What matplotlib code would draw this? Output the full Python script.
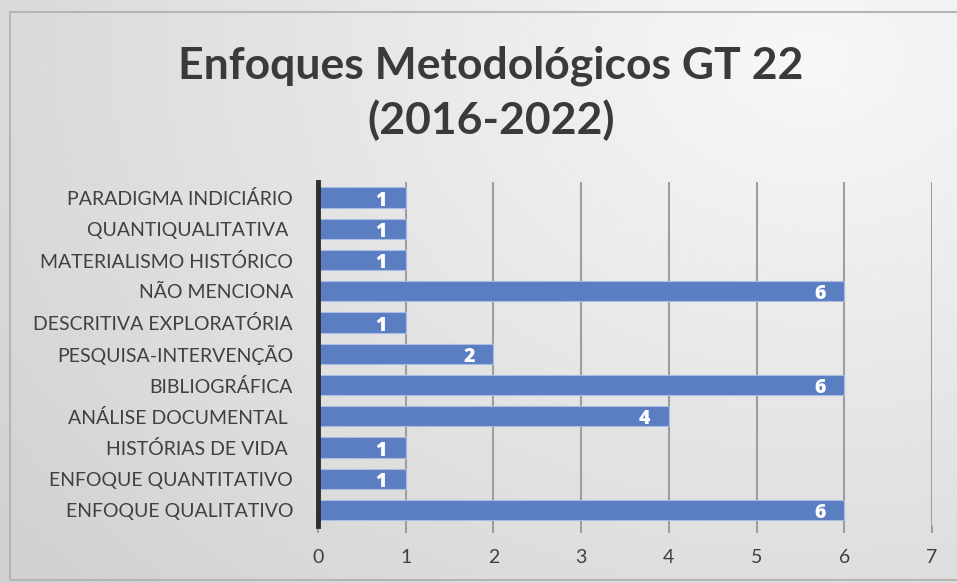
import numpy as np
import matplotlib.pyplot as plt
from matplotlib.patches import Rectangle

# categories from bottom to top (as plotted)
categorias = [
    "ENFOQUE QUALITATIVO",
    "ENFOQUE QUANTITATIVO",
    "HISTÓRIAS DE VIDA ",
    "ANÁLISE DOCUMENTAL ",
    "BIBLIOGRÁFICA",
    "PESQUISA-INTERVENÇÃO",
    "DESCRITIVA EXPLORATÓRIA",
    "NÃO MENCIONA",
    "MATERIALISMO HISTÓRICO",
    "QUANTIQUALITATIVA ",
    "PARADIGMA INDICIÁRIO",
]
valores = [6, 1, 1, 4, 6, 2, 1, 6, 1, 1, 1]
x_ticks = [0, 1, 2, 3, 4, 5, 6, 7]

plt.rcParams['font.family'] = ['Lato', 'DejaVu Sans']

fig = plt.figure(figsize=(9.57, 5.83), dpi=100)

# gradient background
bg = fig.add_axes([0, 0, 1, 1], zorder=-10)
yy, xx = np.mgrid[0:1:200j, 0:1:300j]
d = np.sqrt((xx - 0.85) ** 2 + ((yy - 0.1) * 0.8) ** 2)
shade = np.clip(0.97 - 0.14 * d, 0.82, 0.98)
bg.imshow(shade, cmap='gray', vmin=0, vmax=1, extent=[0, 1, 0, 1], aspect='auto', origin='upper')
bg.add_patch(Rectangle((10 / 957, 3 / 583), 1.0, 1 - 15 / 583,
                       fill=False, edgecolor='#b5b5b5', linewidth=1.5, transform=bg.transAxes))
bg.axis('off')

ax = fig.add_axes([0.3323, 0.0985, 0.6416, 0.5893])
ax.patch.set_alpha(0)

y = np.arange(len(categorias))
ax.barh(y, valores, height=0.65, color='#5b7ec2', edgecolor='#a9bce3', linewidth=0.8, zorder=3)

for yi, v in zip(y, valores):
    ax.text(v - 0.28, yi - 0.1, str(v), color='white', fontsize=14, fontweight='heavy',
            family=['Open Sans', 'DejaVu Sans'], ha='center', va='center', zorder=4)

ax.set_xlim(0, 7)
ax.set_ylim(-0.5, len(categorias) - 0.5)
ax.set_xticks(x_ticks)
ax.set_yticks(y)
ax.set_yticklabels(categorias)
ax.xaxis.grid(True, color='#9e9e9e', linewidth=1.5, zorder=1)
ax.tick_params(axis='x', length=5, width=1.5, color='#9e9e9e', pad=12, labelsize=14, labelcolor='#404040')
ax.tick_params(axis='y', length=0, pad=18, labelsize=14, labelcolor='#404040')
for s in ['top', 'right', 'bottom']:
    ax.spines[s].set_visible(False)
ax.spines['left'].set_color('#2e2e2e')
ax.spines['left'].set_linewidth(3.5)
ax.spines['left'].set_zorder(5)

fig.text(0.513, 0.84, "Enfoques Metodológicos GT 22\n(2016-2022)", ha='center', va='center',
         fontsize=32, fontweight='bold', color='#3a3a3a', linespacing=1.4)

fig.savefig('out.png', dpi=100)
